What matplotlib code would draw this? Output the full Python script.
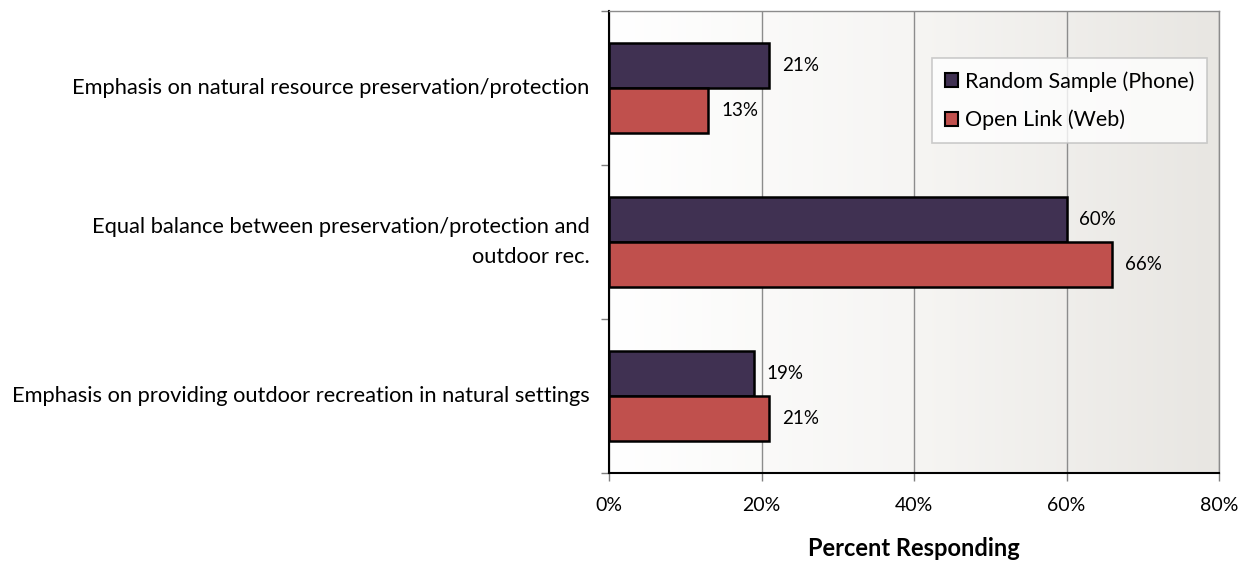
import matplotlib
matplotlib.use("Agg")
import matplotlib.pyplot as plt
import numpy as np
from matplotlib.patches import Patch
from matplotlib.colors import LinearSegmentedColormap

categories = [
    "Emphasis on natural resource preservation/protection",
    "Equal balance between preservation/protection and\noutdoor rec.",
    "Emphasis on providing outdoor recreation in natural settings",
]
series_names = ["Random Sample (Phone)", "Open Link (Web)"]
phone = [21, 60, 19]
web = [13, 66, 21]
xticks = [0, 20, 40, 60, 80]
xlabel = "Percent Responding"

plt.rcParams['font.family'] = ['Lato', 'DejaVu Sans']

W, H = 1246, 566
fig = plt.figure(figsize=(W / 100, H / 100), dpi=100)
ax = fig.add_axes([609 / W, 1 - 473 / H, (1219 - 609) / W, (473 - 11) / H])

n = len(categories)
y = np.arange(n)
bh = 0.29
c_phone = "#403152"
c_web = "#C0504D"

ax.barh(y - bh / 2, phone, height=bh, color=c_phone, edgecolor="black", linewidth=1.8, zorder=3)
ax.barh(y + bh / 2, web, height=bh, color=c_web, edgecolor="black", linewidth=1.8, zorder=3)

for i in range(n):
    ax.text(phone[i] + 1.7, y[i] - bh / 2, f"{phone[i]}%", va="center", ha="left", fontsize=13.5, zorder=4)
    ax.text(web[i] + 1.7, y[i] + bh / 2, f"{web[i]}%", va="center", ha="left", fontsize=13.5, zorder=4)

ax.set_xlim(0, 80)
ax.set_ylim(n - 0.5, -0.5)

# gradient background
grad = np.linspace(0, 1, 256).reshape(1, -1)
cmap = LinearSegmentedColormap.from_list("bg", ["#FFFFFF", "#F6F5F3", "#E8E6E2"])
ax.imshow(grad, extent=[0, 1, 0, 1], transform=ax.transAxes, aspect="auto", cmap=cmap, zorder=0)

ax.set_xticks(xticks)
ax.set_xticklabels([f"{t}%" for t in xticks], fontsize=14)
ax.xaxis.grid(True, color="#8C8C8C", linewidth=1.0, zorder=1)
ax.set_axisbelow(True)

ax.set_yticks(np.arange(n + 1) - 0.5)
ax.set_yticklabels([])
ax.tick_params(axis="y", length=6, color="#7F7F7F", width=1)
ax.tick_params(axis="x", length=6, color="#7F7F7F", width=1, pad=11)
for i, c in enumerate(categories):
    ax.text(-0.032, y[i], c, transform=ax.get_yaxis_transform(), ha="right", va="center",
            fontsize=15.75, multialignment="right", linespacing=1.65)

ax.set_xlabel(xlabel, fontsize=17, fontweight="bold", labelpad=17)

for s in ["left", "bottom"]:
    ax.spines[s].set_color("black")
    ax.spines[s].set_linewidth(1.5)
for s in ["top", "right"]:
    ax.spines[s].set_color("#8C8C8C")
    ax.spines[s].set_linewidth(1.0)

handles = [Patch(facecolor=c_phone, edgecolor="black", linewidth=1.5),
           Patch(facecolor=c_web, edgecolor="black", linewidth=1.5)]
leg = fig.legend(handles, series_names, loc="upper left",
                 bbox_to_anchor=(932 / W, 1 - 58 / H), borderaxespad=0,
                 fontsize=15.5, frameon=True, fancybox=False, handlelength=0.62, handleheight=0.62,
                 handletextpad=0.3, labelspacing=0.85, borderpad=0.6)
leg.get_frame().set_edgecolor("#BFBFBF")
leg.get_frame().set_linewidth(1.2)
leg.get_frame().set_facecolor("white")

fig.savefig("out.png", dpi=100)
